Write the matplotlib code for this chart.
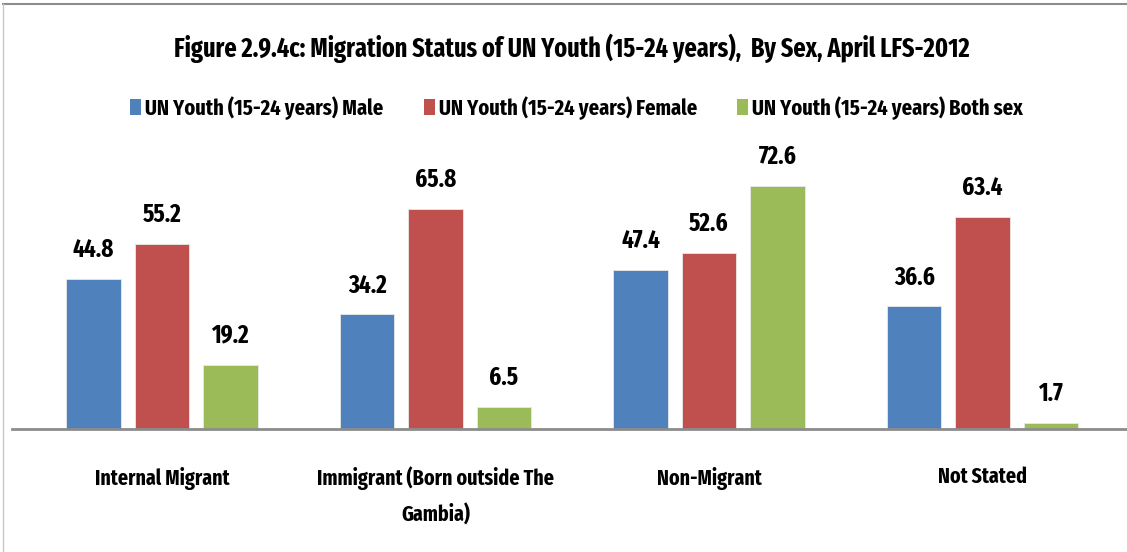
import matplotlib.pyplot as plt
import numpy as np
from matplotlib.lines import Line2D
from matplotlib.patches import Patch

categories = ["Internal Migrant", "Immigrant (Born outside The\nGambia)", "Non-Migrant", "Not Stated"]
series_names = ["UN Youth (15-24 years) Male", "UN Youth (15-24 years) Female", "UN Youth (15-24 years) Both sex"]
male = [44.8, 34.2, 47.4, 36.6]
female = [55.2, 65.8, 52.6, 63.4]
both = [19.2, 6.5, 72.6, 1.7]
colors = ["#4F81BD", "#C0504D", "#9BBB59"]

plt.rcParams['font.family'] = ['Fira Sans Extra Condensed', 'Roboto Condensed', 'DejaVu Sans']
plt.rcParams['font.weight'] = 'bold'

fig = plt.figure(figsize=(11.27, 5.52), dpi=100)
renderer = fig.canvas.get_renderer()


def fit_size(text, target_px, size=20):
    # font size (pt) at which text is target_px wide
    t = fig.text(0, 0, text, fontsize=size, fontweight="bold")
    w = t.get_window_extent(renderer).width
    t.remove()
    return size * target_px / w


title_fs = fit_size("Figure 2.9.4c: Migration Status of UN Youth (15-24 years),  By Sex, April LFS-2012", 797)
legend_fs = fit_size(series_names[0], 238)
cat_fs = fit_size(categories[0], 135)
val_fs = fit_size("44.8", 41)

ax = fig.add_axes([12/1127, 1 - 429/552, 1115/1127, 289/552])

x = np.arange(len(categories))
offsets = [-0.25, 0, 0.25]
for vals, off, col in zip([male, female, both], offsets, colors):
    bars = ax.bar(x + off, vals, width=0.2, color=col, edgecolor="#e8e8e8", linewidth=0.6)
    for b, v in zip(bars, vals):
        ax.annotate(f"{v:.1f}", (b.get_x() + b.get_width()/2, v), xytext=(0, 12),
                    textcoords="offset points", ha="center", va="bottom",
                    fontsize=val_fs, fontweight="bold")

ax.set_xlim(-150/273.5, 965/273.5)
ax.set_ylim(0, 86.3)
for s in ["top", "right", "left"]:
    ax.spines[s].set_visible(False)
ax.spines["bottom"].set_color("#8c8c8c")
ax.spines["bottom"].set_linewidth(2)
ax.set_yticks([])
ax.set_xticks(x)
ax.set_xticklabels(categories, fontsize=cat_fs, fontweight="bold", linespacing=1.75)
ax.tick_params(axis="x", length=0, pad=27)

fig.text(0.507, 1 - 48/552, "Figure 2.9.4c: Migration Status of UN Youth (15-24 years),  By Sex, April LFS-2012",
         ha="center", va="center", fontsize=title_fs, fontweight="bold")

px = legend_fs * 100 / 72
handles = [Patch(facecolor=c, edgecolor="none") for c in colors]
fig.legend(handles, series_names, loc="center", bbox_to_anchor=(0.5115, 1 - 108/552), ncol=3,
           frameon=False, fontsize=legend_fs, handletextpad=4/px, columnspacing=40/px,
           handlelength=11/px, handleheight=16/px, borderpad=0)

# chart border (top and left)
fig.add_artist(Line2D([3/1127, 1], [1 - 4/552, 1 - 4/552], color="#8c8c8c", lw=1.5))
fig.add_artist(Line2D([3/1127, 3/1127], [0, 1 - 4/552], color="#c8c8c8", lw=1))

fig.savefig("out.png", dpi=100)
